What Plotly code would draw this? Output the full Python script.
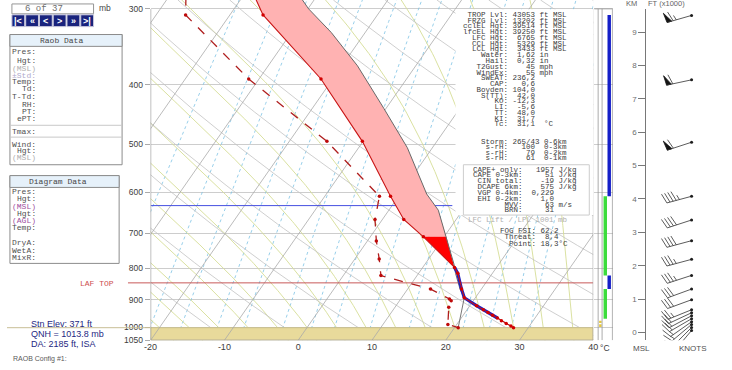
import numpy as np
import plotly.graph_objects as go

W, H = 732, 370

# ---------------- sounding data ----------------
temp_p = [250, 307, 391, 495, 609, 665, 710, 797, 815, 865, 894, 921, 935, 945, 955, 965, 975, 985, 995, 1001]
temp_t = [-44.0, -35.5, -21.6, -10.1, -1.1, 2.9, 7.2, 14.3, 15.3, 17.3, 18.5, 20.9, 22.2, 23.1, 24.0, 24.9, 25.7, 26.6, 27.5, 28.0]
dew_p = [250, 307, 391, 495, 609, 665, 721, 772, 822, 865, 898, 904, 927, 989, 1001]
dew_t = [-51.0, -46.0, -31.4, -14.9, -2.6, -1.0, 1.2, 3.3, 5.1, 13.1, 16.6, 17.0, 17.3, 18.8, 20.5]
parcel_p = [1001, 921, 894, 865, 815, 789, 710, 642, 604, 507, 437, 372, 328, 300, 250]
parcel_t = [28.0, 20.9, 18.5, 17.1, 15.0, 14.0, 10.3, 6.7, 3.6, -3.4, -10.3, -17.9, -24.6, -29.9, -39.0]
mixline_p = [1001, 894]
mixline_t = [20.5, 18.5]
lfc_p = 797
cape3km_p = 710
cin_bottom_p = 965
frz_p = 631
frz_end_x = 20.9
laf_top_p = 845
stn_p = 1001

# side strip layers: (p_top, p_bottom, column)
strip_p_top = [307, 609, 822, 865, 975, 988]
strip_p_bot = [609, 822, 865, 968, 983, 998]
strip_col = ["b", "g", "b", "g", "y", "y"]

# winds
wind_km = [9.50, 7.57, 5.70, 4.08, 3.37, 2.75, 2.19, 1.71, 1.30, 0.98, 0.68, 0.59, 0.50, 0.41, 0.32, 0.24, 0.15, 0.06]
wind_dir = [254, 258, 252, 255, 252, 255, 255, 252, 250, 250, 248, 245, 242, 240, 235, 230, 225, 220]
wind_kt = [65, 60, 60, 45, 40, 40, 35, 35, 30, 30, 25, 20, 20, 20, 15, 15, 10, 10]

# axis labels
p_ticks = [300, 400, 500, 600, 700, 800, 900, 1000, 1050]
t_ticks = [-20, -10, 0, 10, 20, 30, 40]

# text blocks
idx_lines = [("TROP Lvl:", "43053", "ft MSL"), ("FRZG Lvl:", "13202", "ft MSL"),
             ("cclEL Hgt:", "39514", "ft MSL"), ("lfcEL Hgt:", "39250", "ft MSL"),
             ("LFC Hgt:", "6765", "ft MSL"), ("CCL Hgt:", "5329", "ft MSL"),
             ("LCL Hgt:", "3433", "ft MSL"), ("Water:", "1,62", "in"), ("Hail:", "0,32", "in"),
             ("T2Gust:", "45", "mph"), ("WindEx:", "55", "mph"), ("SWEAT:", "236,2", ""),
             ("CAP:", "0,6", ""), ("Boyden:", "104,0", ""), ("S(TT):", "42,0", ""),
             ("KO:", "-12,3", ""), ("LI:", "-5,6", ""), ("TT:", "48,0", ""), ("KI:", "31,7", ""),
             ("Tc:", "31,1", " °C")]
storm_lines = ["    Storm: 265/43 0-6km", "     s-rH:   100  0-3km",
               "     s-rH:    79  0-2km", "     s-rH:    61  0-1km"]
cape_lines = [("CAPE+ only:", "1957", "J/kg"), ("CAPE 0-3km:", "51", "J/kg"),
              ("CIN total:", "-19", "J/kg"), ("DCAPE 6km:", "575", "J/kg"),
              ("VGP 0-4km:", "0,229", ""), ("EHI 0-2km:", "1,0", ""),
              ("MVV:", "63", "m/s"), ("BRN:", "31", "")]
fog_lines = [("FOG FSI:", "62,2", ""), ("Threat:", "8,4", ""), ("Point:", "18,3", "°C")]

# ---------------- geometry ----------------
SKEW = 25.0
P_BOT = 1050.0
P_TOP = 290.1
Y_TOP_PX, Y_BOT_PX = 0, 345


def X(T, p):
    return np.asarray(T, float) + SKEW * np.log(P_BOT / np.asarray(p, float))


def px(v):
    return v / W


def py(v):
    return 1 - v / H


fig = go.Figure()


def add_lines(xs, ys, color, width, dash="solid", xaxis="x", yaxis="y"):
    fig.add_trace(go.Scatter(x=xs, y=ys, mode="lines", xaxis=xaxis, yaxis=yaxis,
                             line=dict(color=color, width=width, dash=dash),
                             hoverinfo="skip", showlegend=False))


pgrid = np.exp(np.linspace(np.log(P_BOT), np.log(P_TOP), 80))

# mixing ratio lines
mix_w = [0.4, 0.7, 1, 1.5, 2, 3, 4, 5, 7, 10, 12, 16, 20, 24, 28]
xs, ys = [], []
for w in mix_w:
    e = w * pgrid / (622.0 + w)
    lne = np.log(e / 6.112)
    T = 243.5 * lne / (17.67 - lne)
    xs += list(X(T, pgrid)) + [None]
    ys += list(pgrid) + [None]
add_lines(xs, ys, "rgb(125,195,228)", 0.8, "dot")


# moist adiabats
def dTdp(T, p):
    Rd, cp, Lv, eps = 287.04, 1005.7, 2.501e6, 0.622
    es = 6.112 * np.exp(17.67 * (T - 273.15) / (T - 29.65))
    ws = eps * es / (p - es)
    return (Rd * T + Lv * ws) / (p * (cp + Lv * Lv * ws * eps / (Rd * T * T)))


def moist(T0):
    out_p, out_t = [1000.0], [T0 + 273.15]
    for direction, pend in ((-1, P_TOP - 1), (1, P_BOT + 1)):
        T, p = T0 + 273.15, 1000.0
        pts_p, pts_t = [], []
        h = 5.0 * direction
        while (p > pend) if direction < 0 else (p < pend):
            k1 = dTdp(T, p)
            k2 = dTdp(T + 0.5 * h * k1, p + 0.5 * h)
            k3 = dTdp(T + 0.5 * h * k2, p + 0.5 * h)
            k4 = dTdp(T + h * k3, p + h)
            T += h * (k1 + 2 * k2 + 2 * k3 + k4) / 6
            p += h
            pts_p.append(p)
            pts_t.append(T)
        if direction < 0:
            out_p = pts_p[::-1] + out_p
            out_t = pts_t[::-1] + out_t
        else:
            out_p = out_p + pts_p
            out_t = out_t + pts_t
    return np.array(out_p), np.array(out_t) - 273.15


moist_T0 = list(range(-20, 40, 4))
xs, ys = [], []
for T0 in moist_T0:
    mp, mt = moist(T0)
    xs += list(X(mt, mp)) + [None]
    ys += list(mp) + [None]
add_lines(xs, ys, "rgb(214,222,150)", 0.9)

# dry adiabats
theta = list(range(250, 430, 10))
xs, ys = [], []
for th in theta:
    T = th * (pgrid / 1000.0) ** 0.2857 - 273.15
    xs += list(X(T, pgrid)) + [None]
    ys += list(pgrid) + [None]
add_lines(xs, ys, "rgb(195,195,195)", 0.8)

# ground band
fig.add_trace(go.Scatter(x=[-20, 40, 40, -20, -20], y=[stn_p, stn_p, P_BOT, P_BOT, stn_p], mode="lines",
                         fill="toself", fillcolor="rgb(232,218,155)", line=dict(color="rgb(200,190,140)", width=1),
                         hoverinfo="skip", showlegend=False))

# isotherms
xs, ys = [], []
pl = np.array([P_BOT, P_TOP])
for T in range(-100, 50, 10):
    xs += list(X(T, pl)) + [None]
    ys += list(pl) + [None]
add_lines(xs, ys, "rgb(170,170,170)", 0.8)

# freezing level line
add_lines([-20, frz_end_x], [frz_p, frz_p], "rgb(70,80,225)", 1.0)
fig.add_trace(go.Scatter(x=[-20.3], y=[frz_p], mode="markers", marker=dict(symbol="triangle-right", size=6,
                         color="rgb(40,50,200)"), hoverinfo="skip", showlegend=False, cliponaxis=False))
# LAF top line
add_lines([-20, 40], [laf_top_p, laf_top_p], "rgb(200,90,90)", 1.0)

# CAPE areas: parcel top->bottom, then environment bottom->top
tp = np.array(temp_p, float)
tt = np.array(temp_t, float)
pp = np.array(parcel_p, float)
pt = np.array(parcel_t, float)
o_p = np.argsort(pp)
o_t = np.argsort(-tp)


def cape_poly(pmin, pmax_parcel, pmax_env, color):
    ip = [i for i in o_p if pmin <= pp[i] <= pmax_parcel]
    it = [i for i in o_t if pmin <= tp[i] <= pmax_env]
    xs_ = list(X(pt[ip], pp[ip])) + list(X(tt[it], tp[it]))
    ys_ = list(pp[ip]) + list(tp[it])
    fig.add_trace(go.Scatter(x=xs_ + [xs_[0]], y=ys_ + [ys_[0]], mode="lines", fill="toself",
                             fillcolor=color, line=dict(width=0), hoverinfo="skip", showlegend=False))


cape_poly(0, cape3km_p, cape3km_p, "rgb(255,178,178)")
cape_poly(cape3km_p, lfc_p - 1, lfc_p, "rgb(255,0,0)")

# parcel
add_lines(list(X(pt, pp)), list(pp), "rgb(105,105,105)", 1.0)
# CIN sliver
sel_c = (tp >= lfc_p) & (tp <= cin_bottom_p)
add_lines(list(X(tt[sel_c], tp[sel_c])), list(tp[sel_c]), "rgb(30,30,190)", 3.2)
# surface mixing-ratio line to LCL
add_lines(list(X(mixline_t, mixline_p)), mixline_p, "rgb(120,120,120)", 1.0)
# temperature
fig.add_trace(go.Scatter(x=list(X(tt, tp)), y=list(tp), mode="lines+markers",
                         line=dict(color="rgb(200,20,20)", width=1.1),
                         marker=dict(size=3.5, color="rgb(210,0,0)"), hoverinfo="skip", showlegend=False))
# dewpoint
dp = np.array(dew_p, float)
dt = np.array(dew_t, float)
fig.add_trace(go.Scatter(x=list(X(dt, dp)), y=list(dp), mode="lines+markers",
                         line=dict(color="rgb(175,30,30)", width=1.3, dash="dash"),
                         marker=dict(size=3.5, color="rgb(190,10,10)"), hoverinfo="skip", showlegend=False))

# plot borders
add_lines([-20, -20], [300, P_BOT], "rgb(150,150,150)", 1.2)
add_lines([40, 40], [300, P_BOT], "rgb(150,150,150)", 1.0)
add_lines([-20, 40], [P_BOT, P_BOT], "rgb(150,150,150)", 1.2)

# ---------------- side strip ----------------
col_x = {"b": (610.5, 614.0, "rgb(20,30,200)"), "g": (606.5, 610.0, "rgb(60,220,60)"),
         "y": (602.0, 604.5, "rgb(230,200,60)")}
for ptop, pbot, c in zip(strip_p_top, strip_p_bot, strip_col):
    x0, x1, colr = col_x[c]
    fig.add_trace(go.Scatter(x=[x0, x1, x1, x0, x0], y=[ptop, ptop, pbot, pbot, ptop], mode="lines",
                             fill="toself", fillcolor=colr, line=dict(width=0), xaxis="x2", yaxis="y",
                             hoverinfo="skip", showlegend=False))
for xv in [601, 605, 615.5]:
    add_lines([xv, xv], [300, P_BOT], "rgb(150,150,150)", 0.8, xaxis="x2")
add_lines([597, 615.5], [300, 300], "rgb(150,150,150)", 0.8, xaxis="x2")

# ---------------- wind barbs ----------------
KM_RANGE = [-0.2365, 9.696]
PXKM = (345 - 9) / (KM_RANGE[1] - KM_RANGE[0])
BASE_X = 696
bx, by = [], []
fx, fy = [], []
for h, d, s in zip(wind_km, wind_dir, wind_kt):
    r = np.deg2rad(d)
    u = np.array([np.sin(r), np.cos(r)])
    n = np.array([np.cos(r), -np.sin(r)])
    L, bl, sp = 26.0, 10.0, 3.3

    def P(v):
        return BASE_X + v[0], h + v[1] / PXKM

    base = np.array([0.0, 0.0])
    tip = base + u * L
    for q in (base, tip):
        a, b = P(q)
        bx.append(a); by.append(b)
    bx.append(None); by.append(None)
    n50 = s // 50
    rem = s - 50 * n50
    n10 = rem // 10
    n5 = (rem % 10) >= 5
    pos = L
    for i in range(n50):
        a = base + u * pos
        b2 = base + u * (pos - 5)
        apex = a + n * bl + u * 1.0
        for q in (a, apex, b2, a):
            xx, yy = P(q)
            fx.append(xx); fy.append(yy)
        fx.append(None); fy.append(None)
        pos -= 6.5
    for i in range(n10):
        a = base + u * pos
        e = a + n * bl + u * 3.0
        for q in (a, e):
            xx, yy = P(q)
            bx.append(xx); by.append(yy)
        bx.append(None); by.append(None)
        pos -= sp
    if n5:
        if pos == L:
            pos -= sp
        a = base + u * pos
        e = a + (n * bl + u * 3.0) * 0.5
        for q in (a, e):
            xx, yy = P(q)
            bx.append(xx); by.append(yy)
        bx.append(None); by.append(None)
fig.add_trace(go.Scatter(x=fx, y=fy, mode="lines", fill="toself", fillcolor="rgb(20,20,20)",
                         line=dict(color="rgb(20,20,20)", width=0.8), xaxis="x3", yaxis="y3",
                         hoverinfo="skip", showlegend=False))
fig.add_trace(go.Scatter(x=bx, y=by, mode="lines", line=dict(color="rgb(50,50,50)", width=0.8),
                         xaxis="x3", yaxis="y3", hoverinfo="skip", showlegend=False))
fig.add_trace(go.Scatter(x=[BASE_X] * len(wind_km), y=wind_km, mode="markers",
                         marker=dict(size=3, color="rgb(30,30,30)"), xaxis="x3", yaxis="y3",
                         hoverinfo="skip", showlegend=False))

# ---------------- layout ----------------
ydom = [py(Y_BOT_PX), py(Y_TOP_PX)]
fig.update_layout(
    width=W, height=H, margin=dict(l=0, r=0, t=0, b=0),
    paper_bgcolor="white", plot_bgcolor="rgba(0,0,0,0)", showlegend=False,
    xaxis=dict(domain=[px(146), px(596)], range=[-20, 40], tickvals=t_ticks, ticktext=[str(t) for t in t_ticks],
               showgrid=False, zeroline=False, showline=False, ticks="", anchor="y",
               tickfont=dict(family="Liberation Sans", size=9, color="rgb(60,60,60)")),
    yaxis=dict(domain=ydom, type="log", range=[np.log10(P_BOT), np.log10(P_TOP)], tickvals=p_ticks,
               ticktext=[str(p) for p in p_ticks], showgrid=True, gridcolor="rgb(205,205,205)", gridwidth=1,
               zeroline=False, showline=False, ticks="outside", ticklen=5, tickcolor="rgb(170,170,170)",
               tickfont=dict(family="Liberation Sans", size=8.5, color="rgb(60,60,60)"), anchor="x"),
    xaxis2=dict(domain=[px(597), px(616)], range=[597, 616], visible=False, anchor="y"),
    xaxis3=dict(domain=[px(655), 1.0], range=[655, 732], visible=False, anchor="y3"),
    yaxis3=dict(domain=[py(345), py(9)], range=KM_RANGE, anchor="free", position=px(649), side="left",
                tickvals=list(range(10)), ticks="outside", ticklen=7, tickcolor="rgb(120,120,120)",
                showline=True, linecolor="rgb(120,120,120)", linewidth=1, showgrid=False, zeroline=False,
                tickfont=dict(family="Liberation Sans", size=8, color="rgb(110,110,110)")),
    yaxis4=dict(overlaying="y3", range=[v * 3.28084 for v in KM_RANGE], anchor="free", position=px(649),
                side="right", tickvals=list(range(0, 35, 5)), ticks="outside", ticklen=6,
                tickcolor="rgb(120,120,120)", showgrid=False, zeroline=False, showline=False,
                minor=dict(dtick=0.5, ticks="outside", ticklen=3, tickcolor="rgb(140,140,140)"),
                tickfont=dict(family="Liberation Sans", size=8, color="rgb(110,110,110)")),
)

shapes = []
anns = []
MONO = "Liberation Mono"
SANS = "Liberation Sans"


def ann(txt, x, y, size=8, color="rgb(70,70,70)", family=MONO, xanchor="left"):
    anns.append(dict(text=txt.replace(" ", "\u00a0"), x=px(x), y=py(y), xref="paper", yref="paper",
                     showarrow=False, xanchor=xanchor, yanchor="middle",
                     font=dict(size=size, color=color, family=family)))


def rect(x0, y0, x1, y1, fill=None, line="rgb(140,140,140)", lw=1, layer="above"):
    shapes.append(dict(type="rect", xref="paper", yref="paper", x0=px(x0), x1=px(x1), y0=py(y0), y1=py(y1),
                       fillcolor=fill if fill else "rgba(0,0,0,0)",
                       line=dict(color=line if line else "rgba(0,0,0,0)", width=lw if line else 0), layer=layer))


def hline(x0, x1, y, color="rgb(170,170,170)", lw=1):
    shapes.append(dict(type="line", xref="paper", yref="paper", x0=px(x0), x1=px(x1), y0=py(y), y1=py(y),
                       line=dict(color=color, width=lw), layer="above"))


# white area behind index text
rect(456, 9.5, 596, 218, fill="white", line=None)
rect(464, 167, 592, 218, fill=None, line="rgb(205,205,205)")

# left extensions of lines (drawn in pressure coords)
shapes.append(dict(type="line", xref="paper", yref="y", x0=px(123), x1=px(146), y0=laf_top_p, y1=laf_top_p,
                   line=dict(color="rgb(200,90,90)", width=1)))
shapes.append(dict(type="line", xref="paper", yref="y", x0=0, x1=px(146), y0=stn_p, y1=stn_p,
                   line=dict(color="rgb(200,190,150)", width=1)))

# top-left navigation
rect(5, 4, 88, 14, fill="white", line="rgb(150,150,150)")
ann("6 of 37", 38, 9.2, size=9, color="rgb(110,110,110)", xanchor="center")
nav = ["|<", "«", "<", ">", "»", ">|"]
bx0 = [5, 19, 33, 47, 61, 75]
for lab, x0 in zip(nav, bx0):
    rect(x0, 15, x0 + 13, 27, fill="rgb(25,35,125)", line="rgb(200,200,220)", lw=1)
    anns.append(dict(text="<b>%s</b>" % lab, x=px(x0 + 6.5), y=py(21), xref="paper", yref="paper", showarrow=False,
                     xanchor="center", yanchor="middle", font=dict(size=9, color="white", family=SANS)))
ann("mb", 100, 8, size=8.5, color="rgb(70,70,70)", family=SANS, xanchor="center")

# Raob data box
rect(3, 35, 117, 167, fill="white", line="rgb(140,140,140)")
rect(3, 35, 117, 47, fill="rgb(230,241,250)", line="rgb(140,140,140)")
ann("Raob Data", 55, 41, size=8, xanchor="center")
raob_labels = [("Pres:", 52), ("Hgt:", 61), ("(MSL)", 69), ("±Std:", 77), ("Temp:", 83), ("Td:", 90),
               ("T-Td:", 98), ("RH:", 106), ("PT:", 113), ("ePT:", 120), ("Tmax:", 133), ("Wind:", 146),
               ("Hgt:", 153), ("(MSL)", 160)]
for i, (lab, yy) in enumerate(raob_labels):
    col = "rgb(80,80,80)"
    if lab == "(MSL)":
        col = "rgb(175,175,175)"
    if lab == "±Std:":
        col = "rgb(175,170,205)"
    ann(lab, 32, yy, size=8, color=col, xanchor="right")
hline(3, 117, 127, color="rgb(200,200,200)")
hline(3, 117, 139, color="rgb(200,200,200)")

# Diagram data box
rect(3, 178, 114, 267, fill="white", line="rgb(140,140,140)")
rect(3, 178, 114, 190, fill="rgb(230,241,250)", line="rgb(140,140,140)")
ann("Diagram Data", 52, 184, size=8, xanchor="center")
diag_labels = [("Pres:", 194), ("Hgt:", 201), ("(MSL)", 209), ("Hgt:", 216), ("(AGL)", 224), ("Temp:", 231),
               ("DryA:", 246), ("WetA:", 254), ("MixR:", 261)]
for lab, yy in diag_labels:
    col = "rgb(160,80,160)" if lab.startswith("(") else "rgb(80,80,80)"
    ann(lab, 32, yy, size=8, color=col, xanchor="right")

# LAF TOP label
ann("LAF TOP", 92, 287, size=8, color="rgb(205,80,80)", xanchor="center")

# station info
ann("Stn Elev: 371 ft", 22, 328, size=9, color="rgb(30,40,130)", family=SANS)
ann("QNH = 1013.8 mb", 22, 339, size=9, color="rgb(30,40,130)", family=SANS)
ann("DA: 2185 ft, ISA", 22, 349, size=9, color="rgb(30,40,130)", family=SANS)
ann("RAOB Config #1:", 4, 364, size=7, color="rgb(90,90,90)", family=SANS)

# index text blocks
FS = 7.5
CW = 0.6 * FS
for i, (lab, val, unit) in enumerate(idx_lines):
    s = "%10s %5s %s" % (lab, val, unit)
    ann(s.rstrip(), 507 - 10 * CW, 15 + i * 5.85, size=FS, color="rgb(60,60,60)")
for i, s in enumerate(storm_lines):
    ann(s, 507 - 10 * CW, 144 + i * 5.5, size=FS, color="rgb(60,60,60)")
for i, (lab, val, unit) in enumerate(cape_lines):
    s = "%11s %6s %s" % (lab, val, unit)
    ann(s.rstrip(), 521 - 11 * CW, 172 + i * 5.9, size=FS, color="rgb(60,60,60)")
ann("LFC Lift / LPL 1001 mb", 467, 223, size=FS, color="rgb(175,175,175)")
for i, (lab, val, unit) in enumerate(fog_lines):
    s = "%8s %4s%s" % (lab, val, unit)
    ann(s, 535 - 8 * CW, 234 + i * 6.5, size=FS, color="rgb(60,60,60)")

# right panel labels
ann("KM", 635, 4, size=7.5, color="rgb(100,100,100)", family=SANS, xanchor="center")
ann("FT (x1000)", 670, 4, size=7.5, color="rgb(100,100,100)", family=SANS, xanchor="center")
ann("MSL", 645, 353, size=8, color="rgb(80,80,80)", family=SANS, xanchor="center")
ann("KNOTS", 697, 353, size=8, color="rgb(80,80,80)", family=SANS, xanchor="center")
ann("°C", 608, 353, size=8.5, color="rgb(60,60,60)", family=SANS, xanchor="center")

fig.update_layout(shapes=shapes, annotations=anns)
fig.write_html("out.html")
